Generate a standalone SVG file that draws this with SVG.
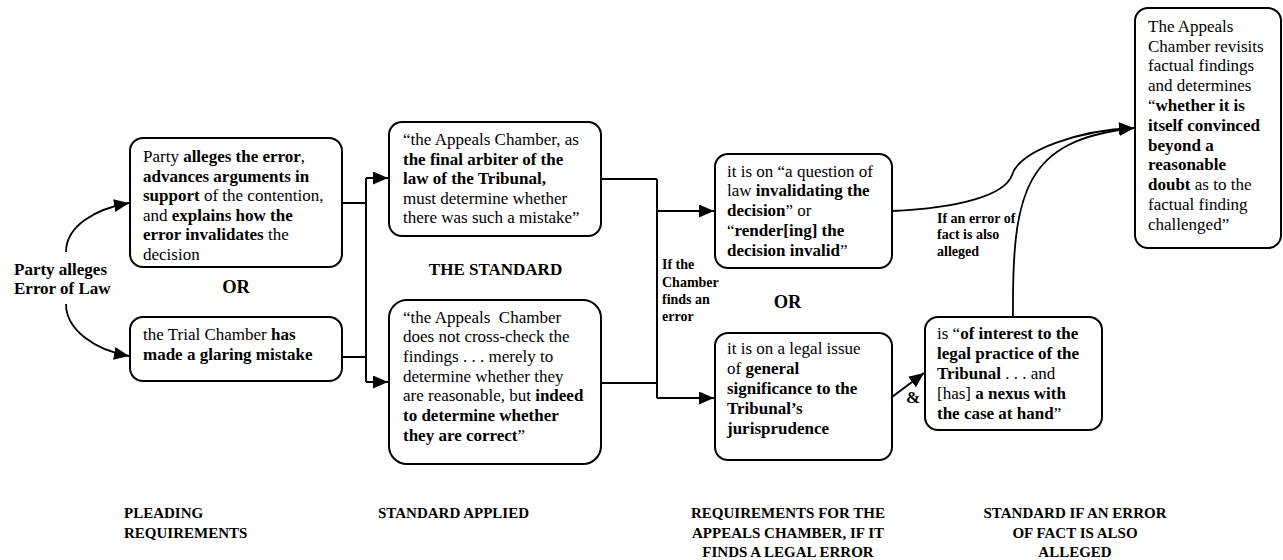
<svg xmlns="http://www.w3.org/2000/svg" width="1283" height="560" viewBox="0 0 1283 560">
<style>
text{font-family:"Liberation Serif","Times New Roman",serif;fill:#000}
.t{font-size:17px}
.b{font-weight:bold}
.s{font-size:14px;font-weight:bold}
.h{font-size:15px;font-weight:bold}
.box{fill:#fff;stroke:#000;stroke-width:2}
.ln{fill:none;stroke:#000;stroke-width:2}
.cv{fill:none;stroke:#000;stroke-width:1.8}
</style>
<defs>
<marker id="ah" markerUnits="userSpaceOnUse" markerWidth="16" markerHeight="14" refX="15" refY="6.5" orient="auto">
<path d="M0,0 L15,6.5 L0,13 z" fill="#000"/>
</marker>
</defs>

<g id="connectors">
<path class="cv" d="M66,252 C66,226 95,209 129,203" marker-end="url(#ah)"/>
<path class="cv" d="M66,304 C66,330 95,350 129,356" marker-end="url(#ah)"/>
<path class="ln" d="M342,203 H366"/>
<path class="ln" d="M342,357 H366"/>
<path class="ln" d="M366,178 V382"/>
<path class="ln" d="M366,178 H388" marker-end="url(#ah)"/>
<path class="ln" d="M366,382 H388" marker-end="url(#ah)"/>
<path class="ln" d="M601,179 H657"/>
<path class="ln" d="M601,383 H657"/>
<path class="ln" d="M657,179 V398"/>
<path class="ln" d="M657,211 H714" marker-end="url(#ah)"/>
<path class="ln" d="M657,398 H714" marker-end="url(#ah)"/>
<path class="ln" d="M892,397 L924,373" marker-end="url(#ah)"/>
<path class="cv" d="M892,211 C960,208 1005,195 1012,175 C1020,150 1080,130 1134,128" marker-end="url(#ah)"/>
<path class="cv" d="M1013,317 C1012,190 1025,140 1134,128" marker-end="url(#ah)"/>
</g>

<g id="n-label-start">
<text class="t b" x="14" y="275">Party alleges</text>
<text class="t b" x="14" y="293.5">Error of Law</text>
</g>

<g id="n-plead1">
<rect class="box" x="130" y="138" width="212" height="129" rx="13"/>
<text class="t" x="143" y="162">Party <tspan class="b">alleges the error</tspan>,</text>
<text class="t b" x="143" y="181.5">advances arguments in</text>
<text class="t" x="143" y="201"><tspan class="b">support</tspan> of the contention,</text>
<text class="t" x="143" y="220.5">and <tspan class="b">explains how the</tspan></text>
<text class="t" x="143" y="240"><tspan class="b">error invalidates</tspan> the</text>
<text class="t" x="143" y="259.5">decision</text>
</g>

<g id="n-or1">
<text class="b" font-size="18.5" x="236" y="292.5" text-anchor="middle">OR</text>
</g>

<g id="n-plead2">
<rect class="box" x="130" y="317" width="212" height="64" rx="13"/>
<text class="t" x="143" y="340">the Trial Chamber <tspan class="b">has</tspan></text>
<text class="t b" x="143" y="360">made a glaring mistake</text>
</g>

<g id="n-std1">
<rect class="box" x="389" y="122" width="212" height="114" rx="13"/>
<text class="t" x="403" y="145">“the Appeals Chamber, as</text>
<text class="t b" x="403" y="164.6">the final arbiter of the</text>
<text class="t b" x="403" y="184.2">law of the Tribunal,</text>
<text class="t" x="403" y="203.8">must determine whether</text>
<text class="t" x="403" y="223.4">there was such a mistake”</text>
</g>

<g id="n-standard-label">
<text class="t b" x="495.5" y="275" text-anchor="middle">THE STANDARD</text>
</g>

<g id="n-std2">
<rect class="box" x="389" y="300" width="212" height="164" rx="18"/>
<text class="t" x="403" y="322.5" style="white-space:pre">“the Appeals  Chamber</text>
<text class="t" x="403" y="342.2">does not cross-check the</text>
<text class="t" x="403" y="361.9">findings . . . merely to</text>
<text class="t" x="403" y="381.6">determine whether they</text>
<text class="t" x="403" y="401.3">are reasonable, but <tspan class="b">indeed</tspan></text>
<text class="t b" x="403" y="421">to determine whether</text>
<text class="t" x="403" y="440.7"><tspan class="b">they are correct</tspan>”</text>
</g>

<g id="n-if-chamber">
<text class="s" x="662" y="269">If the</text>
<text class="s" x="662" y="286.5">Chamber</text>
<text class="s" x="662" y="304">finds an</text>
<text class="s" x="662" y="321">error</text>
</g>

<g id="n-req1">
<rect class="box" x="715" y="154" width="177" height="114" rx="13"/>
<text class="t" x="727" y="176.5">it is on “a question of</text>
<text class="t" x="727" y="196.3">law <tspan class="b">invalidating the</tspan></text>
<text class="t" x="727" y="216.1"><tspan class="b">decision</tspan>” or</text>
<text class="t" x="727" y="235.9">“<tspan class="b">render[ing] the</tspan></text>
<text class="t" x="727" y="255.7"><tspan class="b">decision invalid</tspan>”</text>
</g>

<g id="n-or2">
<text class="b" font-size="18.5" x="787.5" y="308" text-anchor="middle">OR</text>
</g>

<g id="n-req2">
<rect class="box" x="715" y="333" width="177" height="127" rx="13"/>
<text class="t" x="727" y="354">it is on a legal issue</text>
<text class="t" x="727" y="374">of <tspan class="b">general</tspan></text>
<text class="t b" x="727" y="394">significance to the</text>
<text class="t b" x="727" y="414">Tribunal’s</text>
<text class="t b" x="727" y="434">jurisprudence</text>
</g>

<g id="n-amp">
<text class="t b" x="906" y="403">&amp;</text>
</g>

<g id="n-req3">
<rect class="box" x="925" y="317" width="177" height="113" rx="13"/>
<text class="t" x="937" y="338.5">is “<tspan class="b">of interest to the</tspan></text>
<text class="t b" x="937" y="358.5">legal practice of the</text>
<text class="t" x="937" y="378.5"><tspan class="b">Tribunal</tspan> . . . and</text>
<text class="t" x="937" y="398.5">[has] <tspan class="b">a nexus with</tspan></text>
<text class="t" x="937" y="418.5"><tspan class="b">the case at hand</tspan>”</text>
</g>

<g id="n-if-fact">
<text class="s" x="937" y="222.7">If an error of</text>
<text class="s" x="937" y="239.3">fact is also</text>
<text class="s" x="937" y="256">alleged</text>
</g>

<g id="n-fact">
<rect class="box" x="1135" y="8" width="146" height="240" rx="13"/>
<text class="t" x="1148" y="31.7">The Appeals</text>
<text class="t" x="1148" y="51.5">Chamber revisits</text>
<text class="t" x="1148" y="71.3">factual findings</text>
<text class="t" x="1148" y="91.1">and determines</text>
<text class="t" x="1148" y="110.9">“<tspan class="b">whether it is</tspan></text>
<text class="t b" x="1148" y="130.7">itself convinced</text>
<text class="t b" x="1148" y="150.5">beyond a</text>
<text class="t b" x="1148" y="170.3">reasonable</text>
<text class="t" x="1148" y="190.1"><tspan class="b">doubt</tspan> as to the</text>
<text class="t" x="1148" y="209.9">factual finding</text>
<text class="t" x="1148" y="229.7">challenged”</text>
</g>

<g id="n-footer">
<text class="h" x="124" y="518">PLEADING</text>
<text class="h" x="124" y="538">REQUIREMENTS</text>
<text class="h" x="378" y="518">STANDARD APPLIED</text>
<text class="h" x="788" y="518" text-anchor="middle">REQUIREMENTS FOR THE</text>
<text class="h" x="788" y="538" text-anchor="middle">APPEALS CHAMBER, IF IT</text>
<text class="h" x="788" y="557" text-anchor="middle">FINDS A LEGAL ERROR</text>
<text class="h" x="1075" y="518" text-anchor="middle">STANDARD IF AN ERROR</text>
<text class="h" x="1075" y="538" text-anchor="middle">OF FACT IS ALSO</text>
<text class="h" x="1075" y="557" text-anchor="middle">ALLEGED</text>
</g>
</svg>
